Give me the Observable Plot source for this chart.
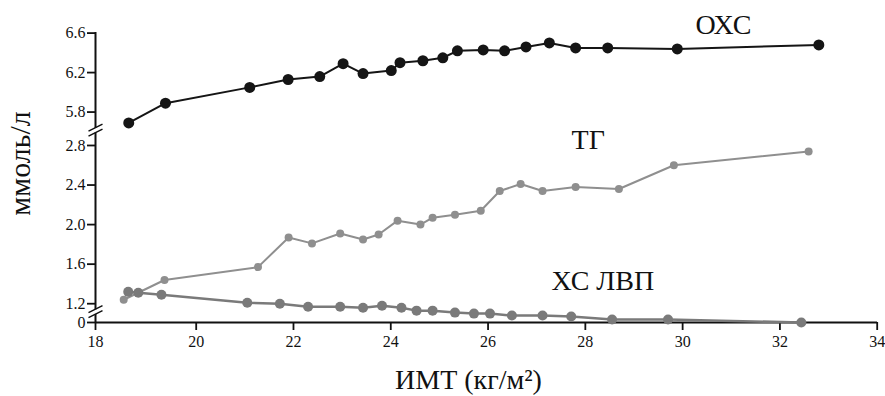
<!DOCTYPE html>
<html><head><meta charset="utf-8">
<script src="https://cdn.jsdelivr.net/npm/d3@7"></script>
<script src="https://cdn.jsdelivr.net/npm/@observablehq/plot@0.6"></script>
<style>body{margin:0;background:#fff}</style>
</head><body><div id="chart"></div>
<script>
// BMI (x) and lipid values (mmol/l)
const bmiOXC = [18.66, 19.39, 21.10, 21.89, 22.54, 23.02, 23.43, 24.01, 24.19, 24.66, 25.07, 25.37, 25.90, 26.34, 26.78, 27.26, 27.80, 28.46, 29.89, 32.80];
const oxc    = [5.69, 5.89, 6.05, 6.13, 6.16, 6.29, 6.19, 6.22, 6.30, 6.32, 6.35, 6.42, 6.43, 6.42, 6.46, 6.50, 6.45, 6.45, 6.44, 6.48];
const bmiTG  = [18.56, 19.37, 21.27, 21.90, 22.38, 22.96, 23.43, 23.75, 24.14, 24.61, 24.86, 25.32, 25.85, 26.24, 26.67, 27.12, 27.80, 28.69, 29.82, 32.59];
const tg     = [1.24, 1.44, 1.57, 1.87, 1.81, 1.91, 1.85, 1.90, 2.04, 2.00, 2.07, 2.10, 2.14, 2.34, 2.41, 2.34, 2.38, 2.36, 2.60, 2.74];
const bmiHDL = [18.65, 18.85, 19.31, 21.05, 21.72, 22.30, 22.96, 23.43, 23.82, 24.22, 24.53, 24.86, 25.32, 25.71, 26.04, 26.49, 27.12, 27.71, 28.55, 29.70, 32.44];
const hdl    = [1.32, 1.31, 1.29, 1.21, 1.20, 1.17, 1.17, 1.16, 1.18, 1.16, 1.13, 1.13, 1.11, 1.10, 1.10, 1.08, 1.08, 1.07, 1.04, 1.04, 1.01];

const xTicks = [18, 20, 22, 24, 26, 28, 30, 32, 34];
const yTickValues = [1.01, 1.2, 1.6, 2.0, 2.4, 2.8, 5.8, 6.2, 6.6];
const yTickLabels = ["0", "1.2", "1.6", "2.0", "2.4", "2.8", "5.8", "6.2", "6.6"];
const seriesNames = ["ОХС", "ТГ", "ХС ЛВП"];
const labelBmi = [30.84, 28.06, 28.36];
const labelValue = [6.68, 2.86, 1.43];
const yBreaks = [4.3, 1.12];
const xTitle = "ИМТ (кг/м²)";
const yTitle = "ммоль/л";

const oxcData = bmiOXC.map((x, i) => ({x, y: oxc[i]}));
const tgData = bmiTG.map((x, i) => ({x, y: tg[i]}));
const hdlData = bmiHDL.map((x, i) => ({x, y: hdl[i]}));
const breakData = yBreaks.map(y => ({x: 18, y}));
const yLabel = new Map(yTickValues.map((v, i) => [v, yTickLabels[i]]));

const gapSymbol = {draw(ctx) { ctx.rect(-3, -2.3, 6, 4.6); }};
const slashSymbol = {draw(ctx) {
  ctx.moveTo(-7, 1); ctx.lineTo(7, -6);
  ctx.moveTo(-7, 6); ctx.lineTo(7, -1);
}};

const colOXC = "#151515", colTG = "#8f8f8f", colHDL = "#7a7a7a";

const chart = Plot.plot({
  width: 885, height: 396,
  marginLeft: 95, marginRight: 8, marginTop: 32, marginBottom: 74,
  style: {fontFamily: "'Liberation Serif', 'Times New Roman', serif", fontSize: "16px", background: "white", color: "#111"},
  x: {type: "linear", domain: [18, 20, 34], range: [95, 195.7, 876.7]},
  y: {type: "linear", domain: [1.01, 2.9, 5.67, 6.6], range: [322, 135.1, 124.4, 32.6]},
  marks: [
    Plot.ruleX([18], {stroke: "#111", strokeWidth: 2}),
    Plot.ruleY([1.01], {stroke: "#111", strokeWidth: 2}),
    Plot.axisX({ticks: xTicks, tickFormat: d => String(d), tickSize: 8, tickPadding: 5, fontSize: 16, strokeWidth: 1.8, label: null}),
    Plot.axisY({ticks: yTickValues, tickFormat: d => yLabel.get(d), tickSize: 8, tickPadding: 2, fontSize: 16, strokeWidth: 1.8, label: null}),
    Plot.dot(breakData, {x: "x", y: "y", symbol: gapSymbol, fill: "white", stroke: "none", r: 5}),
    Plot.dot(breakData, {x: "x", y: "y", symbol: slashSymbol, fill: "none", stroke: "#111", strokeWidth: 1.5, r: 5}),
    Plot.line(oxcData, {x: "x", y: "y", stroke: colOXC, strokeWidth: 2}),
    Plot.dot(oxcData, {x: "x", y: "y", fill: colOXC, r: 5.5}),
    Plot.line(tgData, {x: "x", y: "y", stroke: colTG, strokeWidth: 2}),
    Plot.dot(tgData, {x: "x", y: "y", fill: colTG, r: 4}),
    Plot.line(hdlData, {x: "x", y: "y", stroke: colHDL, strokeWidth: 2.5}),
    Plot.dot(hdlData, {x: "x", y: "y", fill: colHDL, r: 5}),
    Plot.text(seriesNames, {x: (d, i) => labelBmi[i], y: (d, i) => labelValue[i], text: d => d, fontSize: 28, fill: "#111"}),
    Plot.text([xTitle], {frameAnchor: "bottom", textAnchor: "middle", lineAnchor: "middle", dx: -18, dy: 58, fontSize: 28, fill: "#111"}),
    Plot.text([yTitle], {frameAnchor: "left", textAnchor: "middle", lineAnchor: "middle", rotate: -90, dx: -75, dy: -14, fontSize: 30, fill: "#111"})
  ]
});
document.getElementById("chart").appendChild(chart);
</script>
</body></html>
